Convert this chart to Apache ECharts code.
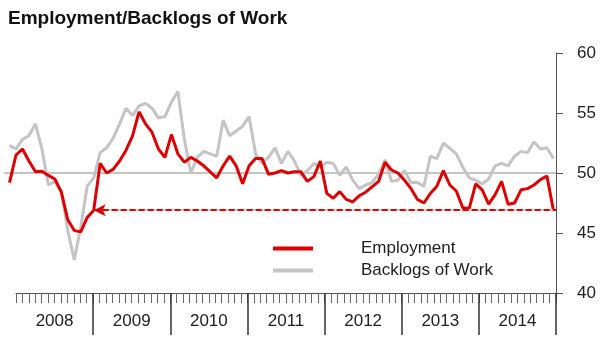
<!DOCTYPE html>
<html>
<head>
<meta charset="utf-8">
<script src="https://cdn.jsdelivr.net/npm/echarts@6/dist/echarts.min.js"></script>
<style>html,body{margin:0;padding:0;background:#fff;}#c{width:600px;height:340px;}</style>
</head>
<body>
<div id="c"></div>
<script>
// Monthly values, Dec 2007 .. Dec 2014
const years = ['2008','2009','2010','2011','2012','2013','2014'];
const monthNames = ['Jan','Feb','Mar','Apr','May','Jun','Jul','Aug','Sep','Oct','Nov','Dec'];
const employment = [
  49.2, 51.5, 52.0, 51.0, 50.1, 50.15, 49.8, 49.5, 48.4, 46.1, 45.2, 45.1, 46.3,
  46.9, 50.8, 50.0, 50.3, 51.0, 51.9, 53.1, 55.1, 54.1, 53.4, 52.0, 51.3,
  53.2, 51.6, 50.9, 51.3, 51.0, 50.6, 50.1, 49.6, 50.6, 51.4, 50.6, 49.1,
  50.6, 51.2, 51.2, 49.9, 50.0, 50.2, 50.0, 50.1, 50.1, 49.3, 49.7, 51.0,
  48.3, 47.9, 48.45, 47.8, 47.6, 48.1, 48.4, 48.85, 49.3, 50.9, 50.25, 50.0,
  49.4, 48.7, 47.8, 47.5, 48.3, 48.9, 50.2, 49.0, 48.5, 47.1, 47.05, 49.1,
  48.6, 47.4, 48.2, 49.3, 47.4, 47.5, 48.6, 48.7, 49.0, 49.45, 49.75, 46.9
];
const backlogs = [
  52.3, 52.0, 52.8, 53.1, 54.1, 52.0, 49.0, 49.3, 48.5, 45.2, 42.75, 45.5, 48.9,
  49.6, 51.7, 52.1, 52.9, 54.1, 55.4, 54.8, 55.6, 55.8, 55.4, 54.6, 54.7,
  55.9, 56.8, 52.8, 50.0, 51.3, 51.8, 51.6, 51.4, 54.4, 53.1, 53.5, 53.9,
  54.7, 51.6, 50.8, 51.3, 52.1, 50.8, 51.8, 51.0, 49.8, 50.2, 50.8, 50.5,
  50.9, 50.8, 49.8, 50.5, 49.4, 48.7, 49.0, 49.2, 49.9, 51.1, 49.3, 49.4,
  50.2, 49.2, 49.2, 48.9, 51.4, 51.2, 52.5, 52.05, 51.6, 50.5, 49.6, 49.4,
  49.1, 49.5, 50.6, 50.8, 50.6, 51.4, 51.8, 51.7, 52.6, 52.0, 52.1, 51.2
];
const yTicks = [40, 45, 50, 55, 60];
const referenceLevel = 50;
const latestEmployment = 46.9;
const arrowMonth = 12;            // Jan 2009 (month index from Jan 2008)
const xSpan = [-1.8, 83.4];       // month-index range of the data grid (Jan 2008 = 0)

const monthLabels = years.flatMap(y => monthNames.map(m => m + ' ' + y));
const toPairs = arr => arr.map((v, i) => [i - 1, v]);

const axisLeft = 16, gridRight = 44, gridTop = 53, gridBottom = 47;
const pxPerMonth = (600 - gridRight - axisLeft) / xSpan[1];
const dataLeft = axisLeft + xSpan[0] * pxPerMonth;

const chart = echarts.init(document.getElementById('c'), null, {renderer: 'canvas'});
chart.setOption({
  animation: false,
  textStyle: {fontFamily: 'Liberation Sans, Arial, sans-serif'},
  title: {
    text: 'Employment/Backlogs of Work',
    left: 3, top: 4,
    textStyle: {fontSize: 19, fontWeight: 'bold', color: '#111', fontFamily: 'Liberation Sans, Arial, sans-serif'}
  },
  legend: {
    data: ['Employment', 'Backlogs of Work'],
    orient: 'vertical',
    left: 268, top: 235,
    icon: 'rect',
    itemWidth: 40, itemHeight: 4, itemGap: 5,
    textStyle: {fontSize: 17, color: '#222', padding: [0, 0, 0, 43]}
  },
  grid: [
    {left: dataLeft, right: gridRight, top: gridTop, bottom: gridBottom},
    {left: axisLeft, right: gridRight, top: gridTop, bottom: gridBottom}
  ],
  xAxis: [
    {type: 'value', gridIndex: 0, min: xSpan[0], max: xSpan[1], show: false},
    {
      type: 'category', gridIndex: 1, data: monthLabels, position: 'bottom', boundaryGap: true,
      axisLine: {show: true, onZero: false, lineStyle: {color: '#555', width: 1}},
      axisTick: {show: true, interval: 0, length: 10, lineStyle: {color: '#666', width: 1}},
      axisLabel: {show: false}, splitLine: {show: false}
    },
    {
      type: 'category', gridIndex: 1, data: years, position: 'bottom', boundaryGap: true,
      axisLine: {show: false, onZero: false},
      axisTick: {show: true, interval: function (idx) { return idx !== 0; }, length: 42, lineStyle: {color: '#333', width: 1.5}},
      axisLabel: {show: true, interval: 0, margin: 20, fontSize: 17, color: '#222'},
      splitLine: {show: false}
    }
  ],
  yAxis: [
    {type: 'value', gridIndex: 0, min: yTicks[0], max: yTicks[yTicks.length - 1], show: false},
    {
      type: 'value', gridIndex: 1, position: 'right', min: yTicks[0], max: yTicks[yTicks.length - 1], interval: 5,
      axisLine: {show: true, onZero: false, lineStyle: {color: '#555', width: 1}},
      axisTick: {show: true, length: 7, lineStyle: {color: '#555'}},
      axisLabel: {margin: 21, fontSize: 17, color: '#222'},
      splitLine: {show: false}
    }
  ],
  series: [
    {
      name: 'ref50', type: 'line', xAxisIndex: 0, yAxisIndex: 0,
      data: [[xSpan[0], referenceLevel], [xSpan[1], referenceLevel]],
      showSymbol: false, symbol: 'none', z: 1, silent: true,
      lineStyle: {color: '#8a8a8a', width: 1}
    },
    {
      name: 'Backlogs of Work', type: 'line', xAxisIndex: 0, yAxisIndex: 0, data: toPairs(backlogs),
      showSymbol: false, symbol: 'none', z: 2,
      color: '#c4c4c4',
      lineStyle: {color: '#c4c4c4', width: 3},
      markLine: {
        silent: true, symbol: 'none', label: {show: false},
        lineStyle: {color: '#d0d0d0', width: 2, type: 'solid'},
        data: [
          [{coord: [arrowMonth, latestEmployment]}, {coord: [xSpan[1], latestEmployment]}]
        ]
      }
    },
    {
      name: 'Employment', type: 'line', xAxisIndex: 0, yAxisIndex: 0, data: toPairs(employment),
      showSymbol: false, symbol: 'none', z: 3,
      color: '#dd0000',
      lineStyle: {color: '#dd0000', width: 3},
      markLine: {
        silent: true, symbol: ['arrow', 'none'], symbolSize: [9, 12], label: {show: false},
        lineStyle: {color: '#dd0000', width: 2, type: [6, 3]},
        data: [
          [{coord: [arrowMonth, latestEmployment]}, {coord: [xSpan[1], latestEmployment]}]
        ]
      }
    }
  ]
});
</script>
</body>
</html>
